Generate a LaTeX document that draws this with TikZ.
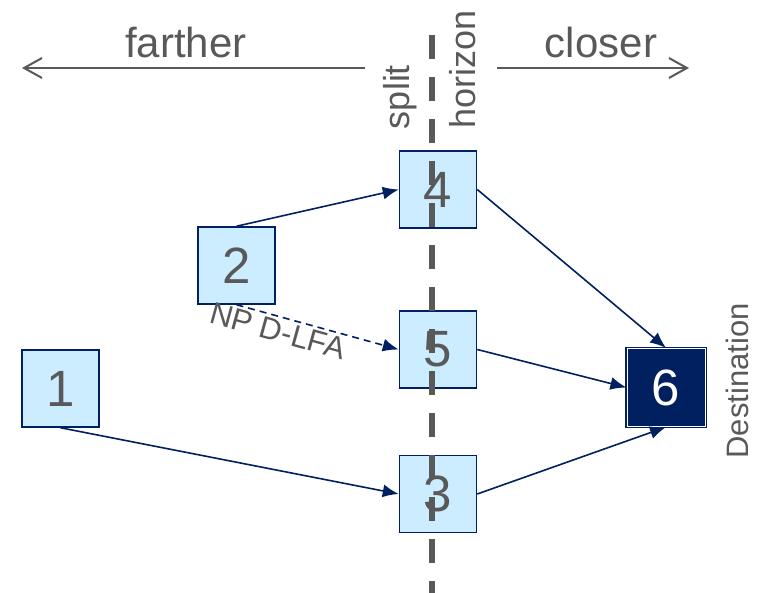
\documentclass[tikz,border=0pt]{standalone}
\usepackage{fontspec}
\setmainfont{Liberation Sans}
\usetikzlibrary{arrows.meta}
\definecolor{navy}{RGB}{0,32,96}
\definecolor{lblue}{RGB}{204,236,255}
\definecolor{txtgray}{RGB}{89,89,89}
\tikzset{
  hopbox/.style={draw=navy, fill=lblue, line width=1.5pt, minimum size=77pt, inner sep=0pt, text=txtgray, font=\fontsize{51}{51}\selectfont},
  destbox/.style={draw=navy, fill=navy, double=white, double distance=0.8pt, line width=1.2pt, minimum size=78pt, inner sep=0pt, text=white, font=\fontsize{51}{51}\selectfont},
  link/.style={draw=navy, line width=1.6pt, -{Latex[length=16pt,width=13pt]}},
  dirarrow/.style={draw=txtgray, line width=2pt, -{Straight Barb[length=18pt,width=20pt,line width=2pt]}},
  bigtxt/.style={text=txtgray, font=\fontsize{42}{42}\selectfont, inner sep=0pt},
  midtxt/.style={text=txtgray, font=\fontsize{36}{36}\selectfont, inner sep=0pt},
}
\begin{document}
\begin{tikzpicture}[x=1pt,y=-1pt]
\useasboundingbox (0,0) rectangle (760,593);
% direction arrows
\coordinate (fs) at (365,68);
\coordinate (fe) at (22,68);
\coordinate (cs) at (497,68);
\coordinate (ce) at (689,68);
\draw[dirarrow] (fs) -- (fe);
\draw[dirarrow] (cs) -- (ce);
\node[bigtxt] (farther) at (186,42) {farther};
\node[bigtxt] (closer) at (601,42) {closer};
\node[midtxt, rotate=90] (split) at (400,97) {split};
\node[midtxt, rotate=90] (horizon) at (463,69) {horizon};
% boxes
\node[hopbox] (b1) at (60.5,388.5) {1};
\node[hopbox] (b2) at (236.5,265.5) {2};
\node[hopbox] (b4) at (438,189.5) {4};
\node[hopbox] (b5) at (438,349.5) {5};
\node[hopbox] (b3) at (438,494) {3};
\node[destbox] (b6) at (666,387.5) {6};
\node[text=txtgray, font=\fontsize{31}{31}\selectfont, rotate=90, inner sep=0pt] (dest) at (737,381) {Destination};
% split horizon line
\coordinate (ht) at (432,35);
\coordinate (hb) at (432,593);
\draw[txtgray, line width=6pt, dash pattern=on 24pt off 18pt] (ht) -- (hb);
% links
\draw[link] (b2.north) -- (b4.west);
\draw[link, dash pattern=on 7pt off 5pt] (b2.south) -- (b5.west)
  node[pos=0.28, sloped, below, inner sep=3pt, text=txtgray, font=\fontsize{31}{31}\selectfont] (np) {NP D-LFA};
\draw[link] (b1.south) -- (b3.west);
\draw[link] (b4.east) -- (b6.north);
\draw[link] (b5.east) -- (b6.west);
\draw[link] (b3.east) -- (b6.south);
\end{tikzpicture}
\end{document}
